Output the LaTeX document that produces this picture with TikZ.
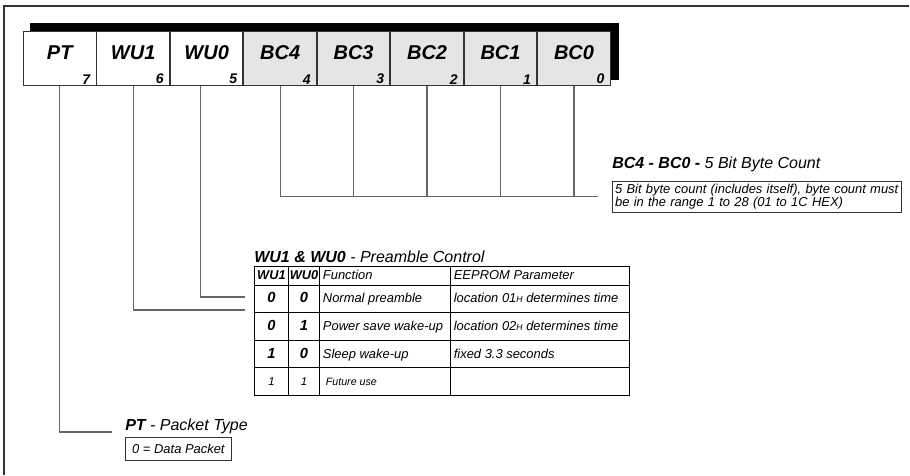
\documentclass[tikz,border=0pt]{standalone}
\usepackage{fontspec}
\setmainfont{Liberation Sans}
\usepackage{array}
\usetikzlibrary{positioning,calc,backgrounds}

\definecolor{framegray}{gray}{0.2}
\definecolor{linegray}{gray}{0.4}
\definecolor{cellgray}{gray}{0.9}

\newcolumntype{C}[1]{>{\centering\arraybackslash}p{#1}}
\newcolumntype{L}[1]{>{\raggedright\arraybackslash}p{#1}}
\newcommand{\hdstrut}{\rule[-3.6pt]{0pt}{13.1pt}}
\newcommand{\rowstrut}{\rule[-7pt]{0pt}{20.1pt}}
\newcommand{\hsub}{{\fontsize{6.5}{6.5}\selectfont H}}
\newcommand{\wuhead}[1]{{\fontsize{9.6}{9.6}\selectfont\bfseries #1}}

\tikzset{
  regcell/.style={draw=framegray, fill=white, line width=0.7pt, minimum width=54.4pt, minimum height=40.5pt, inner sep=0pt},
  bccell/.style={regcell, fill=cellgray},
  keytext/.style={font=\fontsize{15}{15}\selectfont\bfseries\itshape, yshift=4.5pt, inner sep=0pt},
  bitnum/.style={anchor=south east, font=\fontsize{10.5}{10.5}\selectfont\bfseries\itshape, inner xsep=4.5pt, inner ysep=1.2pt},
  notebox/.style={draw=framegray, line width=0.6pt, anchor=north west, align=left, font=\fontsize{9.7}{8.7}\selectfont\itshape, inner xsep=2pt, inner ysep=2pt},
  title/.style={inner sep=1pt, font=\fontsize{12}{12}\selectfont\itshape},
  wire/.style={draw=linegray, line width=0.9pt},
}

\begin{document}
\begin{tikzpicture}[x=0.75pt, y=-0.75pt]
  \useasboundingbox (0,0) rectangle (910,475);

  % Frame
  \draw[framegray, line width=1.1pt] (4,475) -- (4,6) -- (909,6);

  % Register cells
  \node[regcell, anchor=north west, label={[keytext]center:PT}, label={[bitnum]south east:7}] (pt) at (23,31) {};
  \node[regcell, right=0pt of pt, label={[keytext]center:WU1}, label={[bitnum]south east:6}] (wu1) {};
  \node[regcell, right=0pt of wu1, label={[keytext]center:WU0}, label={[bitnum]south east:5}] (wu0) {};
  \node[bccell, right=0pt of wu0, label={[keytext]center:BC4}, label={[bitnum]south east:4}] (bc4) {};
  \node[bccell, right=0pt of bc4, label={[keytext]center:BC3}, label={[bitnum]south east:3}] (bc3) {};
  \node[bccell, right=0pt of bc3, label={[keytext]center:BC2}, label={[bitnum]south east:2}] (bc2) {};
  \node[bccell, right=0pt of bc2, label={[keytext]center:BC1}, label={[bitnum]south east:1}] (bc1) {};
  \node[bccell, right=0pt of bc1, label={[keytext]center:BC0}, label={[bitnum]south east:0}] (bc0) {};

  % Shadow
  \begin{scope}[on background layer]
    \fill ($(pt.north west)+(7,-8)$) rectangle ($(bc0.south east)+(8,-6)$);
  \end{scope}

  % Notes
  \node[notebox, text width=212.7pt, minimum height=22.5pt] (bcnote) at (612,181)
    {5 Bit byte count (includes itself), byte count must\\be in the range 1 to 28 (01 to 1C HEX)};
  \node[title, above right=5.5pt and -1pt of bcnote.north west] (bctitle)
    {\textbf{BC4 - BC0 -} 5 Bit Byte Count};

  \node[anchor=north west, inner sep=0pt] (tbl) at (254,266) {%
    \setlength{\tabcolsep}{2pt}\setlength{\arrayrulewidth}{0.6pt}%
    \renewcommand{\arraystretch}{0.5}%
    \fontsize{9.7}{10}\selectfont\itshape
    \begin{tabular}{|@{\hspace{0.5pt}}C{23.6pt}@{\hspace{0.5pt}}|@{\hspace{0.5pt}}C{22.1pt}@{\hspace{0.5pt}}|L{93.6pt}|L{129.6pt}|}
      \hline
      \hdstrut\wuhead{WU1} & \wuhead{WU0} & Function & EEPROM Parameter \\ \hline
      \rowstrut{\fontsize{11}{11}\selectfont\bfseries 0} & {\fontsize{11}{11}\selectfont\bfseries 0} & Normal preamble & location 01\hsub{} determines time \\ \hline
      \rowstrut{\fontsize{11}{11}\selectfont\bfseries 0} & {\fontsize{11}{11}\selectfont\bfseries 1} & Power save wake-up & location 02\hsub{} determines time \\ \hline
      \rowstrut{\fontsize{11}{11}\selectfont\bfseries 1} & {\fontsize{11}{11}\selectfont\bfseries 0} & Sleep wake-up & fixed 3.3 seconds \\ \hline
      \rowstrut{\fontsize{8.5}{8.5}\selectfont 1} & {\fontsize{8.5}{8.5}\selectfont 1} & {\fontsize{8}{8}\selectfont\ Future use} & \\ \hline
    \end{tabular}};
  \node[title, above right=1.2pt and -1pt of tbl.north west] (wutitle)
    {\textbf{WU1 \& WU0} - Preamble Control};

  \node[notebox, minimum width=79.5pt, minimum height=17.25pt, align=center] (ptnote) at (125,437)
    {0 = Data Packet};
  \node[title, above right=1pt and -1pt of ptnote.north west] (pttitle)
    {\textbf{PT} - Packet Type};

  % Connect the cells
  \coordinate (bcend) at ($(bcnote.west)+(-14,0)$);
  \coordinate (wu0end) at (245,297);
  \coordinate (wu1end) at (245,310);
  \coordinate (ptend) at (112,432);

  \draw[wire] (bc4.south) |- (bcend);
  \draw[wire] (bc3.south) -- (bc3.south |- bcend);
  \draw[wire] (bc2.south) -- (bc2.south |- bcend);
  \draw[wire] (bc1.south) -- (bc1.south |- bcend);
  \draw[wire] (bc0.south) -- (bc0.south |- bcend);
  \draw[wire] ([xshift=-4.5pt]wu0.south) |- (wu0end);
  \draw[wire] (wu1.south) |- (wu1end);
  \draw[wire] (pt.south) |- (ptend);

\end{tikzpicture}
\end{document}
